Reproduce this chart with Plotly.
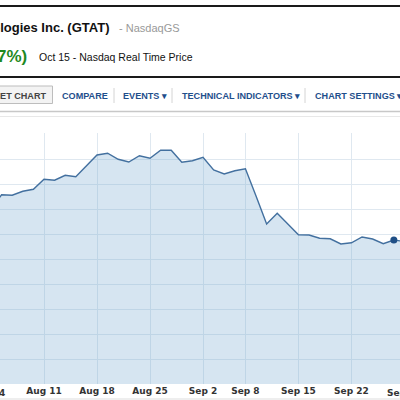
import plotly.graph_objects as go

# trading days shown on the chart (Aug 4 .. Sep 29, 2014)
dates = [
    "Aug 4", "Aug 5", "Aug 6", "Aug 7", "Aug 8",
    "Aug 11", "Aug 12", "Aug 13", "Aug 14", "Aug 15",
    "Aug 18", "Aug 19", "Aug 20", "Aug 21", "Aug 22",
    "Aug 25", "Aug 26", "Aug 27", "Aug 28", "Aug 29",
    "Sep 2", "Sep 3", "Sep 4", "Sep 5",
    "Sep 8", "Sep 9", "Sep 10", "Sep 11", "Sep 12",
    "Sep 15", "Sep 16", "Sep 17", "Sep 18", "Sep 19",
    "Sep 22", "Sep 23", "Sep 24", "Sep 25", "Sep 26",
    "Sep 29",
]
prices = [
    16.00, 17.14, 17.10, 17.42, 17.58,
    18.38, 18.30, 18.70, 18.58, 19.44,
    20.32, 20.46, 19.98, 19.76, 20.26,
    20.06, 20.70, 20.70, 19.74, 19.86,
    20.14, 19.12, 18.80, 19.06,
    19.22, 17.04, 14.80, 15.66, 14.80,
    13.94, 13.92, 13.66, 13.62, 13.20,
    13.30, 13.76, 13.60, 13.22, 13.52,
    13.40,
]
tick_days = ["Aug 4", "Aug 11", "Aug 18", "Aug 25", "Sep 2", "Sep 8", "Sep 15", "Sep 22", "Sep 29"]
hover_day = "Sep 26"

idx = list(range(len(dates)))
tick_idx = [dates.index(d) for d in tick_days]
x_range = [0.85, 38.58]
y_range = [2, 22.08]

W = H = 400


def py(px):
    # pixel row -> paper fraction
    return 1 - px / H


def px_(p):
    return p / W


fig = go.Figure()

fig.add_trace(go.Scatter(
    x=idx, y=prices,
    mode="lines",
    line=dict(color="#43709f", width=1.4),
    fill="tozeroy",
    fillcolor="rgba(120,170,210,0.30)",
    hoverinfo="skip",
    showlegend=False,
))

hi = dates.index(hover_day)
fig.add_trace(go.Scatter(
    x=[hi], y=[prices[hi]],
    mode="markers",
    marker=dict(color="#1f4f86", size=7),
    hoverinfo="skip",
    showlegend=False,
))

# tick labels that fall just outside the visible range (clipped at the edges)
edge_labels = []
for d in (tick_days[0], tick_days[-1]):
    i = dates.index(d)
    if i < x_range[0] or i > x_range[1]:
        frac = (i - x_range[0]) / (x_range[1] - x_range[0])
        edge_labels.append(dict(
            x=frac, xref="x domain", y=py(393), yref="paper",
            text=d, showarrow=False, xanchor="center", yanchor="middle",
            font=dict(family="DejaVu Sans", size=9, color="#333", weight="bold"),
        ))

hdr = "Liberation Sans"
blue = "#1f4f8c"
tb = 9.1
annotations = [
    dict(x=px_(111), y=py(27), text="<b>GT Advanced Technologies Inc. (GTAT)</b>",
         xanchor="right", font=dict(family=hdr, size=13, color="#111")),
    dict(x=px_(117), y=py(28), text="- NasdaqGS",
         xanchor="left", font=dict(family=hdr, size=11, color="#999")),
    dict(x=px_(29), y=py(56), text="<b>7%)</b>",
         xanchor="right", font=dict(family=hdr, size=17, color="#1f8a1f")),
    dict(x=px_(37), y=py(57), text="Oct 15 - Nasdaq Real Time Price",
         xanchor="left", font=dict(family=hdr, size=10.5, color="#111")),
    dict(x=px_(48), y=py(95.5), text="<b>GET CHART</b>",
         xanchor="right", font=dict(family=hdr, size=tb, color="#444")),
    dict(x=px_(60), y=py(95.5), text="<b>COMPARE</b>",
         xanchor="left", font=dict(family=hdr, size=tb, color=blue)),
    dict(x=px_(121), y=py(95.5), text="<b>EVENTS ▾</b>",
         xanchor="left", font=dict(family=hdr, size=tb, color=blue)),
    dict(x=px_(180), y=py(95.5), text="<b>TECHNICAL INDICATORS ▾</b>",
         xanchor="left", font=dict(family=hdr, size=tb, color=blue)),
    dict(x=px_(313), y=py(95.5), text="<b>CHART SETTINGS ▾</b>",
         xanchor="left", font=dict(family=hdr, size=tb, color=blue)),
]
for a in annotations:
    a.update(xref="paper", yref="paper", yanchor="middle", showarrow=False)
annotations += edge_labels

shapes = [
    # black rules around the quote header
    dict(type="line", x0=0, x1=1, y0=py(6), y1=py(6), line=dict(color="#1a1a1a", width=2)),
    dict(type="line", x0=0, x1=1, y0=py(77), y1=py(77), line=dict(color="#1a1a1a", width=2)),
    # GET CHART button
    dict(type="rect", x0=px_(-5), x1=px_(52.5), y0=py(86), y1=py(103.5),
         fillcolor="#f3f3f3", line=dict(color="#bdbdbd", width=1), layer="below"),
    # toolbar separators
    dict(type="line", x0=px_(114), x1=px_(114), y0=py(88), y1=py(103), line=dict(color="#d4d4d4", width=1)),
    dict(type="line", x0=px_(172), x1=px_(172), y0=py(88), y1=py(103), line=dict(color="#d4d4d4", width=1)),
    dict(type="line", x0=px_(305), x1=px_(305), y0=py(88), y1=py(103), line=dict(color="#d4d4d4", width=1)),
    # chart frame lines
    dict(type="line", x0=0, x1=1, y0=py(111.5), y1=py(111.5), line=dict(color="#c8c8c8", width=1.5)),
    dict(type="line", x0=0, x1=1, y0=py(116.5), y1=py(116.5), line=dict(color="#e8e8e8", width=1)),
    dict(type="line", x0=0, x1=1, y0=py(399), y1=py(399), line=dict(color="#dddddd", width=1)),
]
for s in shapes:
    s.update(xref="paper", yref="paper")

fig.update_layout(
    width=W, height=H,
    paper_bgcolor="white",
    plot_bgcolor="white",
    margin=dict(l=0, r=0, t=0, b=0),
    annotations=annotations,
    shapes=shapes,
    xaxis=dict(
        range=x_range, domain=[0, 1],
        tickmode="array", tickvals=tick_idx, ticktext=tick_days,
        showgrid=True, gridcolor="#dfe8f0", gridwidth=1.2,
        zeroline=False, showline=False, ticks="",
        tickfont=dict(family="DejaVu Sans", size=9, color="#333", weight="bold"),
        automargin=False, fixedrange=True,
    ),
    yaxis=dict(
        range=y_range, domain=[py(384), py(133)],
        tick0=0, dtick=2,
        showgrid=True, gridcolor="#dfe8f0", gridwidth=1.2,
        zeroline=False, showline=False, showticklabels=False, ticks="",
        automargin=False, fixedrange=True,
    ),
)

# drop the default page margin so the 400x400 figure fills the window
fig.write_html("out.html", config={"displayModeBar": False},
               post_script="document.body.style.margin='0';")
